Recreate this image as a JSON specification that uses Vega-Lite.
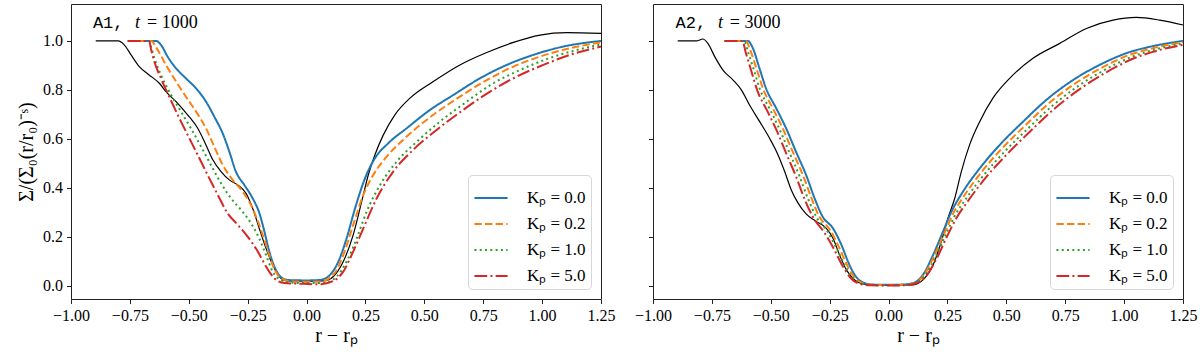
{
  "$schema": "https://vega.github.io/schema/vega-lite/v6.json",
  "padding": {"left": 16, "top": 3, "right": 5, "bottom": 5},
  "background": "white",
  "datasets": {
    "a1": [
      {"s": "ref", "x": -0.895, "y": 1.0}, {"s": "ref", "x": -0.8, "y": 1.0}, {"s": "ref", "x": -0.774, "y": 0.984}, {"s": "ref", "x": -0.745, "y": 0.943}, {"s": "ref", "x": -0.71, "y": 0.895}, {"s": "ref", "x": -0.668, "y": 0.861}, {"s": "ref", "x": -0.625, "y": 0.827}, {"s": "ref", "x": -0.597, "y": 0.793}, {"s": "ref", "x": -0.547, "y": 0.745}, {"s": "ref", "x": -0.505, "y": 0.698}, {"s": "ref", "x": -0.462, "y": 0.643}, {"s": "ref", "x": -0.427, "y": 0.575}, {"s": "ref", "x": -0.398, "y": 0.514}, {"s": "ref", "x": -0.363, "y": 0.466}, {"s": "ref", "x": -0.328, "y": 0.432}, {"s": "ref", "x": -0.292, "y": 0.411}, {"s": "ref", "x": -0.257, "y": 0.377}, {"s": "ref", "x": -0.229, "y": 0.316}, {"s": "ref", "x": -0.201, "y": 0.234}, {"s": "ref", "x": -0.172, "y": 0.152}, {"s": "ref", "x": -0.144, "y": 0.085}, {"s": "ref", "x": -0.116, "y": 0.037}, {"s": "ref", "x": -0.08, "y": 0.019}, {"s": "ref", "x": 0.0, "y": 0.018}, {"s": "ref", "x": 0.07, "y": 0.019}, {"s": "ref", "x": 0.09, "y": 0.022}, {"s": "ref", "x": 0.114, "y": 0.037}, {"s": "ref", "x": 0.156, "y": 0.098}, {"s": "ref", "x": 0.198, "y": 0.207}, {"s": "ref", "x": 0.234, "y": 0.343}, {"s": "ref", "x": 0.262, "y": 0.452}, {"s": "ref", "x": 0.29, "y": 0.534}, {"s": "ref", "x": 0.326, "y": 0.616}, {"s": "ref", "x": 0.375, "y": 0.698}, {"s": "ref", "x": 0.439, "y": 0.766}, {"s": "ref", "x": 0.538, "y": 0.834}, {"s": "ref", "x": 0.651, "y": 0.902}, {"s": "ref", "x": 0.765, "y": 0.953}, {"s": "ref", "x": 0.878, "y": 0.994}, {"s": "ref", "x": 0.991, "y": 1.024}, {"s": "ref", "x": 1.104, "y": 1.034}, {"s": "ref", "x": 1.25, "y": 1.031},

      {"s": "Kₚ = 0.0", "x": -0.759, "y": 1.0}, {"s": "Kₚ = 0.0", "x": -0.639, "y": 1.0}, {"s": "Kₚ = 0.0", "x": -0.618, "y": 0.984}, {"s": "Kₚ = 0.0", "x": -0.59, "y": 0.936}, {"s": "Kₚ = 0.0", "x": -0.554, "y": 0.888}, {"s": "Kₚ = 0.0", "x": -0.512, "y": 0.847}, {"s": "Kₚ = 0.0", "x": -0.469, "y": 0.806}, {"s": "Kₚ = 0.0", "x": -0.427, "y": 0.752}, {"s": "Kₚ = 0.0", "x": -0.392, "y": 0.691}, {"s": "Kₚ = 0.0", "x": -0.356, "y": 0.622}, {"s": "Kₚ = 0.0", "x": -0.328, "y": 0.548}, {"s": "Kₚ = 0.0", "x": -0.3, "y": 0.466}, {"s": "Kₚ = 0.0", "x": -0.264, "y": 0.411}, {"s": "Kₚ = 0.0", "x": -0.229, "y": 0.357}, {"s": "Kₚ = 0.0", "x": -0.2, "y": 0.295}, {"s": "Kₚ = 0.0", "x": -0.179, "y": 0.221}, {"s": "Kₚ = 0.0", "x": -0.158, "y": 0.139}, {"s": "Kₚ = 0.0", "x": -0.13, "y": 0.064}, {"s": "Kₚ = 0.0", "x": -0.094, "y": 0.026}, {"s": "Kₚ = 0.0", "x": -0.066, "y": 0.022}, {"s": "Kₚ = 0.0", "x": 0.0, "y": 0.021}, {"s": "Kₚ = 0.0", "x": 0.057, "y": 0.023}, {"s": "Kₚ = 0.0", "x": 0.1, "y": 0.044}, {"s": "Kₚ = 0.0", "x": 0.135, "y": 0.098}, {"s": "Kₚ = 0.0", "x": 0.17, "y": 0.193}, {"s": "Kₚ = 0.0", "x": 0.206, "y": 0.316}, {"s": "Kₚ = 0.0", "x": 0.248, "y": 0.438}, {"s": "Kₚ = 0.0", "x": 0.29, "y": 0.52}, {"s": "Kₚ = 0.0", "x": 0.347, "y": 0.582}, {"s": "Kₚ = 0.0", "x": 0.425, "y": 0.643}, {"s": "Kₚ = 0.0", "x": 0.524, "y": 0.718}, {"s": "Kₚ = 0.0", "x": 0.623, "y": 0.779}, {"s": "Kₚ = 0.0", "x": 0.736, "y": 0.847}, {"s": "Kₚ = 0.0", "x": 0.85, "y": 0.902}, {"s": "Kₚ = 0.0", "x": 0.963, "y": 0.943}, {"s": "Kₚ = 0.0", "x": 1.09, "y": 0.977}, {"s": "Kₚ = 0.0", "x": 1.25, "y": 1.0},

      {"s": "Kₚ = 0.2", "x": -0.759, "y": 1.0}, {"s": "Kₚ = 0.2", "x": -0.66, "y": 1.0}, {"s": "Kₚ = 0.2", "x": -0.632, "y": 0.963}, {"s": "Kₚ = 0.2", "x": -0.597, "y": 0.902}, {"s": "Kₚ = 0.2", "x": -0.554, "y": 0.834}, {"s": "Kₚ = 0.2", "x": -0.512, "y": 0.772}, {"s": "Kₚ = 0.2", "x": -0.469, "y": 0.711}, {"s": "Kₚ = 0.2", "x": -0.427, "y": 0.643}, {"s": "Kₚ = 0.2", "x": -0.392, "y": 0.568}, {"s": "Kₚ = 0.2", "x": -0.356, "y": 0.493}, {"s": "Kₚ = 0.2", "x": -0.314, "y": 0.432}, {"s": "Kₚ = 0.2", "x": -0.271, "y": 0.384}, {"s": "Kₚ = 0.2", "x": -0.229, "y": 0.316}, {"s": "Kₚ = 0.2", "x": -0.201, "y": 0.248}, {"s": "Kₚ = 0.2", "x": -0.172, "y": 0.166}, {"s": "Kₚ = 0.2", "x": -0.144, "y": 0.085}, {"s": "Kₚ = 0.2", "x": -0.109, "y": 0.03}, {"s": "Kₚ = 0.2", "x": -0.066, "y": 0.017}, {"s": "Kₚ = 0.2", "x": 0.0, "y": 0.015}, {"s": "Kₚ = 0.2", "x": 0.057, "y": 0.016}, {"s": "Kₚ = 0.2", "x": 0.114, "y": 0.044}, {"s": "Kₚ = 0.2", "x": 0.156, "y": 0.125}, {"s": "Kₚ = 0.2", "x": 0.198, "y": 0.248}, {"s": "Kₚ = 0.2", "x": 0.241, "y": 0.371}, {"s": "Kₚ = 0.2", "x": 0.283, "y": 0.452}, {"s": "Kₚ = 0.2", "x": 0.34, "y": 0.527}, {"s": "Kₚ = 0.2", "x": 0.425, "y": 0.609}, {"s": "Kₚ = 0.2", "x": 0.538, "y": 0.698}, {"s": "Kₚ = 0.2", "x": 0.651, "y": 0.772}, {"s": "Kₚ = 0.2", "x": 0.765, "y": 0.84}, {"s": "Kₚ = 0.2", "x": 0.878, "y": 0.895}, {"s": "Kₚ = 0.2", "x": 0.991, "y": 0.936}, {"s": "Kₚ = 0.2", "x": 1.104, "y": 0.967}, {"s": "Kₚ = 0.2", "x": 1.25, "y": 0.994},

      {"s": "Kₚ = 1.0", "x": -0.759, "y": 1.0}, {"s": "Kₚ = 1.0", "x": -0.668, "y": 1.0}, {"s": "Kₚ = 1.0", "x": -0.66, "y": 0.975}, {"s": "Kₚ = 1.0", "x": -0.646, "y": 0.929}, {"s": "Kₚ = 1.0", "x": -0.618, "y": 0.861}, {"s": "Kₚ = 1.0", "x": -0.575, "y": 0.779}, {"s": "Kₚ = 1.0", "x": -0.533, "y": 0.711}, {"s": "Kₚ = 1.0", "x": -0.491, "y": 0.643}, {"s": "Kₚ = 1.0", "x": -0.448, "y": 0.568}, {"s": "Kₚ = 1.0", "x": -0.406, "y": 0.493}, {"s": "Kₚ = 1.0", "x": -0.363, "y": 0.418}, {"s": "Kₚ = 1.0", "x": -0.321, "y": 0.357}, {"s": "Kₚ = 1.0", "x": -0.278, "y": 0.309}, {"s": "Kₚ = 1.0", "x": -0.236, "y": 0.255}, {"s": "Kₚ = 1.0", "x": -0.201, "y": 0.193}, {"s": "Kₚ = 1.0", "x": -0.172, "y": 0.125}, {"s": "Kₚ = 1.0", "x": -0.144, "y": 0.057}, {"s": "Kₚ = 1.0", "x": -0.109, "y": 0.023}, {"s": "Kₚ = 1.0", "x": -0.066, "y": 0.012}, {"s": "Kₚ = 1.0", "x": 0.0, "y": 0.01}, {"s": "Kₚ = 1.0", "x": 0.071, "y": 0.01}, {"s": "Kₚ = 1.0", "x": 0.128, "y": 0.037}, {"s": "Kₚ = 1.0", "x": 0.17, "y": 0.098}, {"s": "Kₚ = 1.0", "x": 0.213, "y": 0.193}, {"s": "Kₚ = 1.0", "x": 0.255, "y": 0.302}, {"s": "Kₚ = 1.0", "x": 0.312, "y": 0.411}, {"s": "Kₚ = 1.0", "x": 0.383, "y": 0.507}, {"s": "Kₚ = 1.0", "x": 0.468, "y": 0.588}, {"s": "Kₚ = 1.0", "x": 0.566, "y": 0.67}, {"s": "Kₚ = 1.0", "x": 0.68, "y": 0.752}, {"s": "Kₚ = 1.0", "x": 0.793, "y": 0.827}, {"s": "Kₚ = 1.0", "x": 0.906, "y": 0.881}, {"s": "Kₚ = 1.0", "x": 1.02, "y": 0.926}, {"s": "Kₚ = 1.0", "x": 1.132, "y": 0.959}, {"s": "Kₚ = 1.0", "x": 1.25, "y": 0.986},

      {"s": "Kₚ = 5.0", "x": -0.759, "y": 1.0}, {"s": "Kₚ = 5.0", "x": -0.668, "y": 1.0}, {"s": "Kₚ = 5.0", "x": -0.66, "y": 0.965}, {"s": "Kₚ = 5.0", "x": -0.646, "y": 0.915}, {"s": "Kₚ = 5.0", "x": -0.618, "y": 0.847}, {"s": "Kₚ = 5.0", "x": -0.583, "y": 0.772}, {"s": "Kₚ = 5.0", "x": -0.547, "y": 0.698}, {"s": "Kₚ = 5.0", "x": -0.505, "y": 0.616}, {"s": "Kₚ = 5.0", "x": -0.462, "y": 0.534}, {"s": "Kₚ = 5.0", "x": -0.42, "y": 0.452}, {"s": "Kₚ = 5.0", "x": -0.377, "y": 0.371}, {"s": "Kₚ = 5.0", "x": -0.335, "y": 0.295}, {"s": "Kₚ = 5.0", "x": -0.292, "y": 0.248}, {"s": "Kₚ = 5.0", "x": -0.25, "y": 0.2}, {"s": "Kₚ = 5.0", "x": -0.207, "y": 0.139}, {"s": "Kₚ = 5.0", "x": -0.172, "y": 0.078}, {"s": "Kₚ = 5.0", "x": -0.137, "y": 0.03}, {"s": "Kₚ = 5.0", "x": -0.094, "y": 0.01}, {"s": "Kₚ = 5.0", "x": -0.038, "y": 0.008}, {"s": "Kₚ = 5.0", "x": 0.057, "y": 0.005}, {"s": "Kₚ = 5.0", "x": 0.114, "y": 0.019}, {"s": "Kₚ = 5.0", "x": 0.156, "y": 0.057}, {"s": "Kₚ = 5.0", "x": 0.198, "y": 0.139}, {"s": "Kₚ = 5.0", "x": 0.241, "y": 0.234}, {"s": "Kₚ = 5.0", "x": 0.298, "y": 0.357}, {"s": "Kₚ = 5.0", "x": 0.368, "y": 0.466}, {"s": "Kₚ = 5.0", "x": 0.453, "y": 0.555}, {"s": "Kₚ = 5.0", "x": 0.552, "y": 0.636}, {"s": "Kₚ = 5.0", "x": 0.665, "y": 0.718}, {"s": "Kₚ = 5.0", "x": 0.779, "y": 0.793}, {"s": "Kₚ = 5.0", "x": 0.892, "y": 0.854}, {"s": "Kₚ = 5.0", "x": 1.005, "y": 0.902}, {"s": "Kₚ = 5.0", "x": 1.118, "y": 0.943}, {"s": "Kₚ = 5.0", "x": 1.25, "y": 0.977}
    ],
    "a2": [
      {"s": "ref", "x": -0.895, "y": 1.0}, {"s": "ref", "x": -0.816, "y": 1.0}, {"s": "ref", "x": -0.788, "y": 1.008}, {"s": "ref", "x": -0.767, "y": 0.99}, {"s": "ref", "x": -0.738, "y": 0.936}, {"s": "ref", "x": -0.703, "y": 0.881}, {"s": "ref", "x": -0.66, "y": 0.84}, {"s": "ref", "x": -0.625, "y": 0.8}, {"s": "ref", "x": -0.59, "y": 0.738}, {"s": "ref", "x": -0.547, "y": 0.67}, {"s": "ref", "x": -0.505, "y": 0.602}, {"s": "ref", "x": -0.469, "y": 0.534}, {"s": "ref", "x": -0.441, "y": 0.466}, {"s": "ref", "x": -0.413, "y": 0.391}, {"s": "ref", "x": -0.384, "y": 0.337}, {"s": "ref", "x": -0.349, "y": 0.292}, {"s": "ref", "x": -0.307, "y": 0.262}, {"s": "ref", "x": -0.264, "y": 0.234}, {"s": "ref", "x": -0.236, "y": 0.193}, {"s": "ref", "x": -0.208, "y": 0.125}, {"s": "ref", "x": -0.179, "y": 0.064}, {"s": "ref", "x": -0.144, "y": 0.023}, {"s": "ref", "x": -0.109, "y": 0.007}, {"s": "ref", "x": -0.06, "y": 0.002}, {"s": "ref", "x": 0.0, "y": 0.001}, {"s": "ref", "x": 0.104, "y": 0.003}, {"s": "ref", "x": 0.146, "y": 0.023}, {"s": "ref", "x": 0.189, "y": 0.084}, {"s": "ref", "x": 0.224, "y": 0.18}, {"s": "ref", "x": 0.252, "y": 0.275}, {"s": "ref", "x": 0.281, "y": 0.357}, {"s": "ref", "x": 0.309, "y": 0.466}, {"s": "ref", "x": 0.344, "y": 0.575}, {"s": "ref", "x": 0.387, "y": 0.67}, {"s": "ref", "x": 0.443, "y": 0.766}, {"s": "ref", "x": 0.514, "y": 0.847}, {"s": "ref", "x": 0.613, "y": 0.929}, {"s": "ref", "x": 0.727, "y": 0.99}, {"s": "ref", "x": 0.84, "y": 1.051}, {"s": "ref", "x": 0.953, "y": 1.085}, {"s": "ref", "x": 1.052, "y": 1.096}, {"s": "ref", "x": 1.151, "y": 1.085}, {"s": "ref", "x": 1.25, "y": 1.065},

      {"s": "Kₚ = 0.0", "x": -0.696, "y": 1.0}, {"s": "Kₚ = 0.0", "x": -0.597, "y": 1.0}, {"s": "Kₚ = 0.0", "x": -0.576, "y": 0.97}, {"s": "Kₚ = 0.0", "x": -0.548, "y": 0.888}, {"s": "Kₚ = 0.0", "x": -0.52, "y": 0.806}, {"s": "Kₚ = 0.0", "x": -0.477, "y": 0.725}, {"s": "Kₚ = 0.0", "x": -0.435, "y": 0.643}, {"s": "Kₚ = 0.0", "x": -0.393, "y": 0.547}, {"s": "Kₚ = 0.0", "x": -0.35, "y": 0.452}, {"s": "Kₚ = 0.0", "x": -0.314, "y": 0.357}, {"s": "Kₚ = 0.0", "x": -0.28, "y": 0.282}, {"s": "Kₚ = 0.0", "x": -0.236, "y": 0.234}, {"s": "Kₚ = 0.0", "x": -0.2, "y": 0.166}, {"s": "Kₚ = 0.0", "x": -0.172, "y": 0.098}, {"s": "Kₚ = 0.0", "x": -0.144, "y": 0.044}, {"s": "Kₚ = 0.0", "x": -0.109, "y": 0.013}, {"s": "Kₚ = 0.0", "x": -0.067, "y": 0.004}, {"s": "Kₚ = 0.0", "x": 0.0, "y": 0.003}, {"s": "Kₚ = 0.0", "x": 0.06, "y": 0.004}, {"s": "Kₚ = 0.0", "x": 0.104, "y": 0.01}, {"s": "Kₚ = 0.0", "x": 0.146, "y": 0.044}, {"s": "Kₚ = 0.0", "x": 0.189, "y": 0.125}, {"s": "Kₚ = 0.0", "x": 0.231, "y": 0.22}, {"s": "Kₚ = 0.0", "x": 0.267, "y": 0.302}, {"s": "Kₚ = 0.0", "x": 0.316, "y": 0.384}, {"s": "Kₚ = 0.0", "x": 0.387, "y": 0.479}, {"s": "Kₚ = 0.0", "x": 0.472, "y": 0.575}, {"s": "Kₚ = 0.0", "x": 0.571, "y": 0.67}, {"s": "Kₚ = 0.0", "x": 0.67, "y": 0.759}, {"s": "Kₚ = 0.0", "x": 0.783, "y": 0.84}, {"s": "Kₚ = 0.0", "x": 0.896, "y": 0.902}, {"s": "Kₚ = 0.0", "x": 1.01, "y": 0.95}, {"s": "Kₚ = 0.0", "x": 1.123, "y": 0.979}, {"s": "Kₚ = 0.0", "x": 1.25, "y": 1.0},

      {"s": "Kₚ = 0.2", "x": -0.696, "y": 1.0}, {"s": "Kₚ = 0.2", "x": -0.605, "y": 1.0}, {"s": "Kₚ = 0.2", "x": -0.588, "y": 0.965}, {"s": "Kₚ = 0.2", "x": -0.56, "y": 0.885}, {"s": "Kₚ = 0.2", "x": -0.532, "y": 0.803}, {"s": "Kₚ = 0.2", "x": -0.49, "y": 0.722}, {"s": "Kₚ = 0.2", "x": -0.448, "y": 0.64}, {"s": "Kₚ = 0.2", "x": -0.406, "y": 0.545}, {"s": "Kₚ = 0.2", "x": -0.363, "y": 0.45}, {"s": "Kₚ = 0.2", "x": -0.327, "y": 0.357}, {"s": "Kₚ = 0.2", "x": -0.293, "y": 0.28}, {"s": "Kₚ = 0.2", "x": -0.25, "y": 0.23}, {"s": "Kₚ = 0.2", "x": -0.212, "y": 0.16}, {"s": "Kₚ = 0.2", "x": -0.18, "y": 0.092}, {"s": "Kₚ = 0.2", "x": -0.15, "y": 0.04}, {"s": "Kₚ = 0.2", "x": -0.113, "y": 0.011}, {"s": "Kₚ = 0.2", "x": -0.07, "y": 0.003}, {"s": "Kₚ = 0.2", "x": 0.0, "y": 0.002}, {"s": "Kₚ = 0.2", "x": 0.06, "y": 0.003}, {"s": "Kₚ = 0.2", "x": 0.106, "y": 0.009}, {"s": "Kₚ = 0.2", "x": 0.15, "y": 0.042}, {"s": "Kₚ = 0.2", "x": 0.193, "y": 0.12}, {"s": "Kₚ = 0.2", "x": 0.236, "y": 0.212}, {"s": "Kₚ = 0.2", "x": 0.273, "y": 0.292}, {"s": "Kₚ = 0.2", "x": 0.325, "y": 0.373}, {"s": "Kₚ = 0.2", "x": 0.397, "y": 0.467}, {"s": "Kₚ = 0.2", "x": 0.483, "y": 0.562}, {"s": "Kₚ = 0.2", "x": 0.582, "y": 0.656}, {"s": "Kₚ = 0.2", "x": 0.682, "y": 0.746}, {"s": "Kₚ = 0.2", "x": 0.795, "y": 0.828}, {"s": "Kₚ = 0.2", "x": 0.908, "y": 0.892}, {"s": "Kₚ = 0.2", "x": 1.02, "y": 0.942}, {"s": "Kₚ = 0.2", "x": 1.133, "y": 0.973}, {"s": "Kₚ = 0.2", "x": 1.25, "y": 0.995},

      {"s": "Kₚ = 1.0", "x": -0.696, "y": 1.0}, {"s": "Kₚ = 1.0", "x": -0.612, "y": 1.0}, {"s": "Kₚ = 1.0", "x": -0.598, "y": 0.96}, {"s": "Kₚ = 1.0", "x": -0.572, "y": 0.882}, {"s": "Kₚ = 1.0", "x": -0.545, "y": 0.8}, {"s": "Kₚ = 1.0", "x": -0.503, "y": 0.719}, {"s": "Kₚ = 1.0", "x": -0.462, "y": 0.637}, {"s": "Kₚ = 1.0", "x": -0.42, "y": 0.542}, {"s": "Kₚ = 1.0", "x": -0.378, "y": 0.447}, {"s": "Kₚ = 1.0", "x": -0.342, "y": 0.355}, {"s": "Kₚ = 1.0", "x": -0.305, "y": 0.278}, {"s": "Kₚ = 1.0", "x": -0.262, "y": 0.225}, {"s": "Kₚ = 1.0", "x": -0.222, "y": 0.155}, {"s": "Kₚ = 1.0", "x": -0.188, "y": 0.087}, {"s": "Kₚ = 1.0", "x": -0.156, "y": 0.036}, {"s": "Kₚ = 1.0", "x": -0.118, "y": 0.009}, {"s": "Kₚ = 1.0", "x": -0.073, "y": 0.002}, {"s": "Kₚ = 1.0", "x": 0.0, "y": 0.001}, {"s": "Kₚ = 1.0", "x": 0.06, "y": 0.002}, {"s": "Kₚ = 1.0", "x": 0.108, "y": 0.008}, {"s": "Kₚ = 1.0", "x": 0.154, "y": 0.04}, {"s": "Kₚ = 1.0", "x": 0.198, "y": 0.114}, {"s": "Kₚ = 1.0", "x": 0.241, "y": 0.204}, {"s": "Kₚ = 1.0", "x": 0.28, "y": 0.283}, {"s": "Kₚ = 1.0", "x": 0.334, "y": 0.362}, {"s": "Kₚ = 1.0", "x": 0.407, "y": 0.455}, {"s": "Kₚ = 1.0", "x": 0.494, "y": 0.549}, {"s": "Kₚ = 1.0", "x": 0.593, "y": 0.643}, {"s": "Kₚ = 1.0", "x": 0.693, "y": 0.733}, {"s": "Kₚ = 1.0", "x": 0.806, "y": 0.816}, {"s": "Kₚ = 1.0", "x": 0.918, "y": 0.882}, {"s": "Kₚ = 1.0", "x": 1.03, "y": 0.934}, {"s": "Kₚ = 1.0", "x": 1.142, "y": 0.968}, {"s": "Kₚ = 1.0", "x": 1.25, "y": 0.989},

      {"s": "Kₚ = 5.0", "x": -0.696, "y": 1.0}, {"s": "Kₚ = 5.0", "x": -0.62, "y": 1.0}, {"s": "Kₚ = 5.0", "x": -0.607, "y": 0.955}, {"s": "Kₚ = 5.0", "x": -0.583, "y": 0.878}, {"s": "Kₚ = 5.0", "x": -0.557, "y": 0.797}, {"s": "Kₚ = 5.0", "x": -0.516, "y": 0.716}, {"s": "Kₚ = 5.0", "x": -0.475, "y": 0.634}, {"s": "Kₚ = 5.0", "x": -0.434, "y": 0.539}, {"s": "Kₚ = 5.0", "x": -0.392, "y": 0.444}, {"s": "Kₚ = 5.0", "x": -0.356, "y": 0.352}, {"s": "Kₚ = 5.0", "x": -0.318, "y": 0.275}, {"s": "Kₚ = 5.0", "x": -0.275, "y": 0.22}, {"s": "Kₚ = 5.0", "x": -0.232, "y": 0.15}, {"s": "Kₚ = 5.0", "x": -0.196, "y": 0.082}, {"s": "Kₚ = 5.0", "x": -0.162, "y": 0.032}, {"s": "Kₚ = 5.0", "x": -0.122, "y": 0.007}, {"s": "Kₚ = 5.0", "x": -0.076, "y": 0.001}, {"s": "Kₚ = 5.0", "x": 0.0, "y": 0.0}, {"s": "Kₚ = 5.0", "x": 0.06, "y": 0.001}, {"s": "Kₚ = 5.0", "x": 0.11, "y": 0.007}, {"s": "Kₚ = 5.0", "x": 0.158, "y": 0.038}, {"s": "Kₚ = 5.0", "x": 0.203, "y": 0.108}, {"s": "Kₚ = 5.0", "x": 0.246, "y": 0.196}, {"s": "Kₚ = 5.0", "x": 0.287, "y": 0.274}, {"s": "Kₚ = 5.0", "x": 0.342, "y": 0.352}, {"s": "Kₚ = 5.0", "x": 0.416, "y": 0.445}, {"s": "Kₚ = 5.0", "x": 0.504, "y": 0.538}, {"s": "Kₚ = 5.0", "x": 0.603, "y": 0.632}, {"s": "Kₚ = 5.0", "x": 0.703, "y": 0.722}, {"s": "Kₚ = 5.0", "x": 0.816, "y": 0.806}, {"s": "Kₚ = 5.0", "x": 0.928, "y": 0.874}, {"s": "Kₚ = 5.0", "x": 1.04, "y": 0.928}, {"s": "Kₚ = 5.0", "x": 1.15, "y": 0.963}, {"s": "Kₚ = 5.0", "x": 1.25, "y": 0.984}
    ]
  },
  "bounds": "flush",
  "spacing": 52,
  "resolve": {"legend": {"color": "independent", "strokeDash": "independent"}},
  "hconcat": [
    {
      "width": 530,
      "height": 295,
      "data": {"name": "a1"},
      "layer": [
        {
          "transform": [{"filter": "datum.s == 'ref'"}],
          "mark": {"type": "line", "interpolate": "monotone", "color": "black", "strokeWidth": 1.2},
          "encoding": {
            "x": {"field": "x", "type": "quantitative", "scale": {"domain": [-1, 1.25], "nice": false, "zero": false},
                  "axis": {"values": [-1, -0.75, -0.5, -0.25, 0, 0.25, 0.5, 0.75, 1, 1.25], "format": ".2f", "title": "r − rₚ", "labelFlush": false, "labelOverlap": false}},
            "y": {"field": "y", "type": "quantitative", "scale": {"domain": [-0.055, 1.151], "nice": false, "zero": false},
                  "axis": {"values": [0, 0.2, 0.4, 0.6, 0.8, 1.0], "format": ".1f", "title": "Σ/(Σ₀(r/r₀)⁻ˢ)", "labelFlush": false}}
          }
        },
        {
          "transform": [{"filter": "datum.s != 'ref'"}],
          "mark": {"type": "line", "interpolate": "monotone", "strokeWidth": 2},
          "encoding": {
            "x": {"field": "x", "type": "quantitative"},
            "y": {"field": "y", "type": "quantitative"},
            "color": {"field": "s", "type": "nominal", "sort": null,
                      "scale": {"domain": ["Kₚ = 0.0", "Kₚ = 0.2", "Kₚ = 1.0", "Kₚ = 5.0"], "range": ["#1f77b4", "#ff7f0e", "#2ca02c", "#d62728"]},
                      "legend": {"title": null}},
            "strokeDash": {"field": "s", "type": "nominal", "sort": null,
                      "scale": {"domain": ["Kₚ = 0.0", "Kₚ = 0.2", "Kₚ = 1.0", "Kₚ = 5.0"], "range": [[1, 0], [7.4, 3.2], [2, 3.3], [12.8, 3.2, 2, 3.2]]},
                      "legend": {"title": null}}
          }
        },
        {
          "data": {"values": [{}]},
          "mark": {"type": "text", "text": "A1,", "font": "Liberation Mono", "fontSize": 17, "align": "left", "baseline": "alphabetic", "color": "black"},
          "encoding": {"x": {"datum": -0.907}, "y": {"datum": 1.054}}
        },
        {
          "data": {"values": [{}]},
          "mark": {"type": "text", "text": "t", "font": "Liberation Serif", "fontStyle": "italic", "fontSize": 18, "align": "left", "baseline": "alphabetic", "color": "black"},
          "encoding": {"x": {"datum": -0.728}, "y": {"datum": 1.054}}
        },
        {
          "data": {"values": [{}]},
          "mark": {"type": "text", "text": "= 1000", "font": "Liberation Serif", "fontSize": 18, "align": "left", "baseline": "alphabetic", "color": "black"},
          "encoding": {"x": {"datum": -0.677}, "y": {"datum": 1.054}}
        }
      ]
    },
    {
      "width": 530,
      "height": 295,
      "data": {"name": "a2"},
      "layer": [
        {
          "transform": [{"filter": "datum.s == 'ref'"}],
          "mark": {"type": "line", "interpolate": "monotone", "color": "black", "strokeWidth": 1.2},
          "encoding": {
            "x": {"field": "x", "type": "quantitative", "scale": {"domain": [-1, 1.25], "nice": false, "zero": false},
                  "axis": {"values": [-1, -0.75, -0.5, -0.25, 0, 0.25, 0.5, 0.75, 1, 1.25], "format": ".2f", "title": "r − rₚ", "labelFlush": false, "labelOverlap": false}},
            "y": {"field": "y", "type": "quantitative", "scale": {"domain": [-0.055, 1.151], "nice": false, "zero": false},
                  "axis": {"values": [0, 0.2, 0.4, 0.6, 0.8, 1.0], "labels": false, "title": null}}
          }
        },
        {
          "transform": [{"filter": "datum.s != 'ref'"}],
          "mark": {"type": "line", "interpolate": "monotone", "strokeWidth": 2},
          "encoding": {
            "x": {"field": "x", "type": "quantitative"},
            "y": {"field": "y", "type": "quantitative"},
            "color": {"field": "s", "type": "nominal", "sort": null,
                      "scale": {"domain": ["Kₚ = 0.0", "Kₚ = 0.2", "Kₚ = 1.0", "Kₚ = 5.0"], "range": ["#1f77b4", "#ff7f0e", "#2ca02c", "#d62728"]},
                      "legend": {"title": null}},
            "strokeDash": {"field": "s", "type": "nominal", "sort": null,
                      "scale": {"domain": ["Kₚ = 0.0", "Kₚ = 0.2", "Kₚ = 1.0", "Kₚ = 5.0"], "range": [[1, 0], [7.4, 3.2], [2, 3.3], [12.8, 3.2, 2, 3.2]]},
                      "legend": {"title": null}}
          }
        },
        {
          "data": {"values": [{}]},
          "mark": {"type": "text", "text": "A2,", "font": "Liberation Mono", "fontSize": 17, "align": "left", "baseline": "alphabetic", "color": "black"},
          "encoding": {"x": {"datum": -0.904}, "y": {"datum": 1.054}}
        },
        {
          "data": {"values": [{}]},
          "mark": {"type": "text", "text": "t", "font": "Liberation Serif", "fontStyle": "italic", "fontSize": 18, "align": "left", "baseline": "alphabetic", "color": "black"},
          "encoding": {"x": {"datum": -0.724}, "y": {"datum": 1.054}}
        },
        {
          "data": {"values": [{}]},
          "mark": {"type": "text", "text": "= 3000", "font": "Liberation Serif", "fontSize": 18, "align": "left", "baseline": "alphabetic", "color": "black"},
          "encoding": {"x": {"datum": -0.674}, "y": {"datum": 1.054}}
        }
      ]
    }
  ],
  "config": {
    "view": {"stroke": "#222222", "strokeWidth": 1},
    "axis": {"domain": false, "grid": false, "ticks": true, "tickColor": "#222222", "tickSize": 4.5, "tickWidth": 1,
             "labelFont": "Liberation Serif", "labelFontSize": 16, "labelColor": "#000000", "labelPadding": 4,
             "titleFont": "Liberation Serif", "titleFontSize": 20, "titleFontWeight": "normal", "titleColor": "#000000"},
    "axisX": {"titlePadding": 2},
    "axisY": {"titlePadding": 6},
    "legend": {"orient": "bottom-right", "offset": 10, "padding": 5, "fillColor": "white", "strokeColor": "#d6d6d6", "cornerRadius": 4,
               "symbolType": "stroke", "symbolSize": 1100, "symbolStrokeWidth": 2, "labelFont": "Liberation Serif", "labelFontSize": 17,
               "labelColor": "#000000", "labelOffset": 18, "rowPadding": 0}
  }
}
